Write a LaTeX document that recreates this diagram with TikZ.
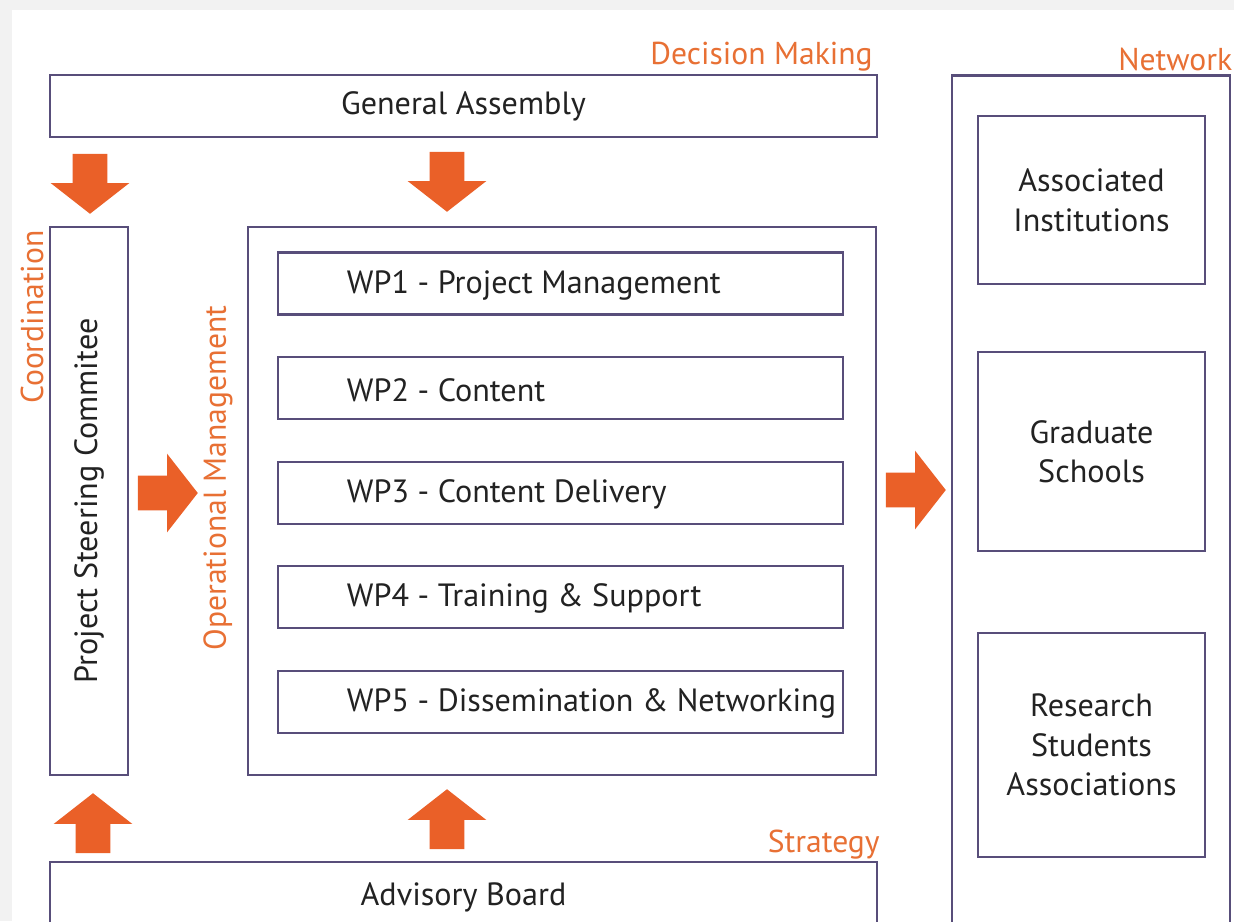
\documentclass[tikz,border=0pt]{standalone}
\usepackage{fontspec}
\setmainfont{PT Sans}
\usetikzlibrary{shapes.arrows}
\definecolor{boxline}{RGB}{88,78,122}
\definecolor{arroworange}{RGB}{234,96,40}
\definecolor{labelorange}{RGB}{232,112,52}
\definecolor{bodytext}{RGB}{34,34,34}

\begin{document}
\begin{tikzpicture}[x = .02cm, y = -.02cm,
        box/.style = {draw=boxline, line width=1.6pt, fill=white, inner sep=0pt,
                      text=bodytext, font=\fontsize{18.3}{22.5}\selectfont, align=center},
        heading/.style = {text=labelorange, inner sep=0pt, font=\fontsize{18}{22}\selectfont},
        bigarrow/.style = {single arrow, fill=arroworange, draw=none, inner xsep=0pt,
                           inner ysep=.34cm, single arrow head extend=.44cm,
                           single arrow tip angle=104, minimum height=1.2cm}]
        \useasboundingbox (0,0) rectangle (1234,921);
        \clip (0,0) rectangle (1234,921);
        \fill[gray!10] (0,0) rectangle (1234,921);
        \fill[white] (12,10) rectangle (1240,930);

        % boxes
        \node[box, minimum width=16.54cm, minimum height=1.24cm] (ga) at (463.5,106) {General Assembly};
        \node[box, rotate=90, minimum width=10.96cm, minimum height=1.56cm] (psc) at (89,501) {Project Steering Commitee};
        \node[box, minimum width=12.56cm, minimum height=10.96cm] (om) at (562,501) {};
        \foreach \n/\y/\t in {1/283.5/Project Management, 2/388/Content, 3/493/Content Delivery,
                              4/597/Training \& Support, 5/702/Dissemination \& Networking} {
          \node[box, minimum width=11.3cm, minimum height=1.24cm] (wp\n) at (560.5,\y) {};
          \node[anchor=west, text=bodytext, inner sep=0pt, font=\fontsize{18.3}{22.5}\selectfont]
               (wp\n text) at ([xshift=1.4cm, yshift=-1pt]wp\n.west) {WP\n\ - \t};
        }
        \node[box, minimum width=5.56cm, minimum height=17.7cm] (net) at (1091,517.5) {};
        \node[box, minimum width=4.54cm, minimum height=3.36cm] (ai) at (1091.5,200) {Associated\\Institutions};
        \node[box, minimum width=4.54cm, minimum height=3.98cm] (gs) at (1091.5,451.5) {Graduate\\Schools};
        \node[box, minimum width=4.54cm, minimum height=4.48cm] (rsa) at (1091.5,745) {Research\\Students\\Associations};
        \node[box, minimum width=16.54cm, minimum height=1.4cm] (ab) at (463.5,897) {Advisory Board};

        % headings
        \node[heading, anchor=base east] (decision) at (873,64) {Decision Making};
        \node[heading, anchor=base west] (network) at (1118,70) {Network};
        \node[heading, anchor=base east] (strategy) at (880,852) {Strategy};
        \node[heading, rotate=90, anchor=east] (coord) at (32,230) {Coordination};
        \node[heading, rotate=90] (opman) at (218,478) {Operational Management};

        % arrows
        \node[bigarrow, rotate=-90] (down1) at (90,177) {};
        \node[bigarrow, rotate=-90] (down2) at (447,175) {};
        \node[bigarrow] (right1) at (161,493) {};
        \node[bigarrow] (right2) at (909,490) {};
        \node[bigarrow, rotate=90] (up1) at (93,830) {};
        \node[bigarrow, rotate=90] (up2) at (447,826) {};
      \end{tikzpicture}
\end{document}
